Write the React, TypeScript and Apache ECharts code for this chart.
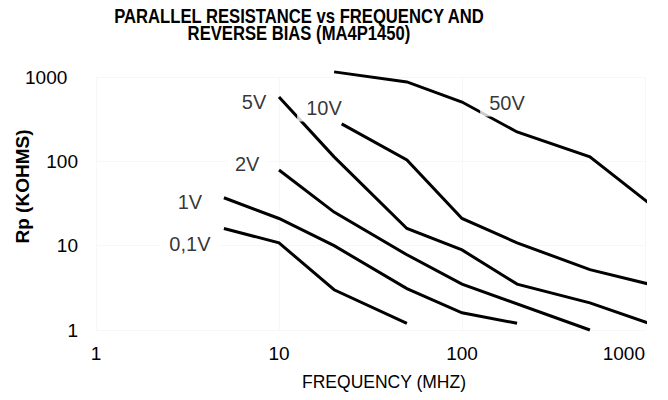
import React, { useEffect, useRef } from "react";
import * as echarts from "echarts";

// Frequency (MHz) and parallel resistance Rp (kOhms) per reverse bias
const freq01V = [5, 10, 20, 50];
const rp01V = [16, 10.8, 3, 1.2];
const freq1V = [5, 10, 20, 50, 100, 200];
const rp1V = [37, 21, 10, 3.1, 1.6, 1.2];
const freq2V = [10, 20, 50, 100, 500];
const rp2V = [79, 25, 7.8, 3.5, 1.0];
const freq5V = [10, 20, 50, 100, 200, 500, 1050];
const rp5V = [580, 113, 16, 8.9, 3.5, 2.1, 1.2];
const freq10V = [22, 50, 100, 200, 500, 1050];
const rp10V = [278, 104, 21, 10.8, 5.2, 3.5];
const freq50V = [20, 50, 100, 200, 500, 1050];
const rp50V = [1150, 875, 505, 223, 113, 32];

// Curve labels anchored in data space
const labelNames = ["5V", "10V", "50V", "2V", "1V", "0,1V"];
const labelFreq = [7.3, 17.6, 176, 6.7, 3.26, 3.26];
const labelRp = [507, 430, 493, 93, 33, 10.5];

// Tick values
const xTicks = [1, 10, 100, 1000];
const yTicks = [1, 10, 100, 1000];

const TITLE = "PARALLEL RESISTANCE vs FREQUENCY AND\nREVERSE BIAS (MA4P1450)";
const FONT = "Liberation Sans, Arial, sans-serif";

function pairs(xs: number[], ys: number[]) {
  return xs.map((x, i) => [x, ys[i]]);
}

export default function App() {
  const ref = useRef<HTMLDivElement>(null);
  useEffect(() => {
    if (!ref.current) return;
    const chart = echarts.init(ref.current, undefined, { renderer: "svg" });
    const lineSeries = (name: string, xs: number[], ys: number[]) => ({
      name,
      type: "line",
      data: pairs(xs, ys),
      symbol: "none",
      clip: false,
      lineStyle: { color: "#000", width: 3, cap: "butt", join: "miter" },
      z: 2,
    });
    const option: any = {
      animation: false,
      backgroundColor: "#fff",
      graphic: [
        {
          type: "text",
          x: 299,
          y: 7.5,
          scaleX: 0.82,
          silent: true,
          style: {
            text: TITLE,
            fontFamily: FONT,
            fontSize: 20.3,
            fontWeight: "bold",
            fill: "#000",
            lineHeight: 17,
            textAlign: "center",
            textVerticalAlign: "top",
          },
        },
      ],
      grid: {
        left: 96,
        right: 23,
        top: 77,
        bottom: 70,
        containLabel: false,
        outerBoundsMode: "none",
      },
      xAxis: {
        type: "log",
        logBase: 10,
        min: 1,
        max: 1000,
        name: "FREQUENCY (MHZ)",
        nameLocation: "middle",
        nameGap: 43,
        nameTextStyle: {
          fontFamily: FONT,
          fontSize: 17.5,
          color: "#000",
          padding: [0, 0, 0, 27],
        },
        axisLine: { show: false },
        axisTick: { show: false },
        splitLine: { show: true, lineStyle: { color: "#f7f7f7", width: 1 } },
        axisLabel: {
          fontFamily: FONT,
          fontSize: 19,
          color: "#000",
          margin: 14,
          alignMaxLabel: "right",
          formatter: (v: number) => {
            const r = Math.round(v);
            return xTicks.includes(r) ? String(r) : "";
          },
        },
      },
      yAxis: {
        type: "log",
        logBase: 10,
        min: 1,
        max: 1000,
        name: "Rp (KOHMS)",
        nameLocation: "middle",
        nameGap: 64,
        nameRotate: 90,
        nameMoveOverlap: false,
        nameTextStyle: {
          fontFamily: FONT,
          fontSize: 19,
          fontWeight: "bold",
          color: "#000",
          padding: [0, 0, 0, 34],
        },
        axisLine: { show: false },
        axisTick: { show: false },
        splitLine: { show: true, lineStyle: { color: "#f7f7f7", width: 1 } },
        axisLabel: {
          fontFamily: FONT,
          fontSize: 19,
          color: "#000",
          margin: 18,
          formatter: (v: number) => {
            const r = Math.round(v);
            if (!yTicks.includes(r)) return "";
            return r === 1000 ? "{big|" + r + "}" : String(r);
          },
          rich: {
            big: { fontFamily: FONT, fontSize: 19, color: "#000", width: 53, align: "left" },
          },
        },
      },
      series: [
        lineSeries("0,1V", freq01V, rp01V),
        lineSeries("1V", freq1V, rp1V),
        lineSeries("2V", freq2V, rp2V),
        lineSeries("5V", freq5V, rp5V),
        lineSeries("10V", freq10V, rp10V),
        lineSeries("50V", freq50V, rp50V),
        {
          name: "labels",
          type: "scatter",
          z: 10,
          symbolSize: 1,
          itemStyle: { color: "rgba(0,0,0,0)" },
          data: labelNames.map((n, i) => [labelFreq[i], labelRp[i], n]),
          label: {
            show: true,
            position: "inside",
            formatter: (p: any) => p.data[2],
            fontFamily: FONT,
            fontSize: 20,
            color: "#000",
            backgroundColor: "#fff",
            padding: [2, 9, 5, 9],
          },
        },
      ],
    };
    chart.setOption(option);
    return () => chart.dispose();
  }, []);
  return (
    <div
      ref={ref}
      style={{ position: "fixed", left: 0, top: 0, width: 668, height: 400, background: "#fff" }}
    />
  );
}
